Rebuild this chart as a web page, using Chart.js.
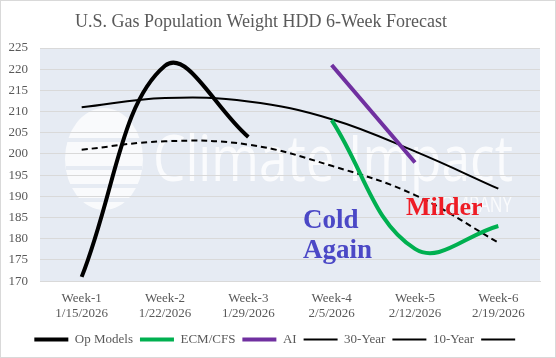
<!DOCTYPE html>
<html>
<head>
<meta charset="utf-8">
<script src="https://cdn.jsdelivr.net/npm/chart.js@4"></script>
<style>
    html, body { margin: 0; padding: 0; background: #fff; }
    #wrap { width: 556px; height: 358px; }
</style>
</head>
<body>
<div id="wrap"><canvas id="hddChart" width="556" height="358"></canvas></div>
<script>
// chart data
const weeks = ['Week-1', 'Week-2', 'Week-3', 'Week-4', 'Week-5', 'Week-6'];
const weekDates = ['1/15/2026', '1/22/2026', '1/29/2026', '2/5/2026', '2/12/2026', '2/19/2026'];
const opModels = [171, 220.8, 204, null, null, null];
const ecmCfs = [null, null, null, 208, 177.6, 183];
const aiModel = [null, null, null, 221, 198, null];
const year30 = [211, 213.2, 212.4, 208.2, 200.6, 191.8];
const year10 = [201, 203, 202.2, 197.2, 190.3, 179.1];
const extraSeries = [null, null, null, null, null, null];
const yMin = 170, yMax = 225, yStep = 5;

const serif = '"Liberation Serif", "Times New Roman", serif';
const textGray = '#595959';
const gridGray = '#d9d9d9';
const plotBg = '#e6ebf3';

const chartDecor = {
    id: 'chartDecor',
    beforeDraw(chart) {
        const { ctx, chartArea: a } = chart;
        ctx.save();
        ctx.fillStyle = '#fff';
        ctx.fillRect(0, 0, chart.width, chart.height);
        ctx.fillStyle = plotBg;
        ctx.fillRect(a.left, a.top, a.right - a.left, a.bottom - a.top);

        // faint company watermark, under the grid
        ctx.fillStyle = 'rgba(255,255,255,0.75)';
        ctx.beginPath();
        ctx.ellipse(104, 159, 39, 51, 0, 0, Math.PI * 2);
        ctx.fill();
        ctx.strokeStyle = plotBg;
        ctx.lineWidth = 4;
        [140, 168, 186, 200].forEach(y => {
            ctx.beginPath();
            ctx.moveTo(66, y);
            ctx.lineTo(142, y);
            ctx.stroke();
        });
        ctx.fillStyle = 'rgba(255,255,255,0.8)';
        ctx.font = '64px "Open Sans", sans-serif';
        ctx.textBaseline = 'alphabetic';
        ctx.fillText('Climate Impact', 153, 181, 360);
        ctx.font = '21px "Open Sans", sans-serif';
        ctx.fillText('COMPANY', 430, 212, 82);
        ctx.restore();
    },
    afterDraw(chart) {
        const { ctx } = chart;
        ctx.save();
        ctx.textBaseline = 'alphabetic';
        ctx.textAlign = 'center';
        ctx.fillStyle = textGray;
        ctx.font = '18px ' + serif;
        ctx.fillText('U.S. Gas Population Weight HDD 6-Week Forecast', 261, 27);

        ctx.textAlign = 'left';
        ctx.font = 'bold 27px ' + serif;
        ctx.fillStyle = '#4b48c6';
        ctx.fillText('Cold', 303, 228);
        ctx.fillText('Again', 303, 258);
        ctx.font = 'bold 26px ' + serif;
        ctx.fillStyle = '#ee1c25';
        ctx.fillText('Milder', 406, 215);

        ctx.strokeStyle = gridGray;
        ctx.lineWidth = 1;
        ctx.strokeRect(0.5, 0.5, chart.width - 1, chart.height - 1);
        ctx.restore();
    }
};

function lineSet(label, data, color, width, dash) {
    return {
        label: label,
        data: data,
        borderColor: color,
        backgroundColor: color,
        borderWidth: width,
        borderDash: dash || [],
        pointRadius: 0,
        tension: 0.4,
        fill: false
    };
}

new Chart(document.getElementById('hddChart').getContext('2d'), {
    type: 'line',
    data: {
        labels: weeks.map((w, i) => [w, weekDates[i]]),
        datasets: [
            lineSet('Op Models', opModels, '#000000', 4),
            lineSet('ECM/CFS', ecmCfs, '#00b050', 4),
            lineSet('AI', aiModel, '#7030a0', 4),
            lineSet('30-Year', year30, '#000000', 2),
            lineSet('10-Year', year10, '#000000', 2, [6, 4]),
            lineSet('', extraSeries, '#000000', 2, [6, 4])
        ]
    },
    plugins: [chartDecor],
    options: {
        responsive: false,
        animation: false,
        layout: { padding: { top: 48, right: 0, left: 0, bottom: 2 } },
        plugins: {
            title: { display: false },
            tooltip: { enabled: false },
            legend: {
                position: 'bottom',
                labels: {
                    usePointStyle: true,
                    pointStyle: 'line',
                    pointStyleWidth: 34,
                    padding: 7,
                    color: textGray,
                    font: { family: serif, size: 13 }
                }
            }
        },
        scales: {
            x: {
                offset: true,
                afterFit(scale) { scale.height += 3; },
                grid: { display: false },
                border: { color: gridGray },
                ticks: { color: textGray, padding: 2, maxRotation: 0, font: { family: serif, size: 13, lineHeight: 1.15 } }
            },
            y: {
                min: yMin,
                max: yMax,
                afterFit(scale) { scale.width = 40; },
                grid: { color: gridGray, drawTicks: false },
                border: { display: false },
                ticks: { stepSize: yStep, color: textGray, padding: 12, font: { family: serif, size: 13 } }
            },
            // empty right margin so the legend centres on the whole chart
            yRight: {
                position: 'right',
                afterFit(scale) { scale.width = 16; },
                grid: { display: false },
                border: { display: false },
                ticks: { display: false }
            }
        }
    }
});
</script>
</body>
</html>
